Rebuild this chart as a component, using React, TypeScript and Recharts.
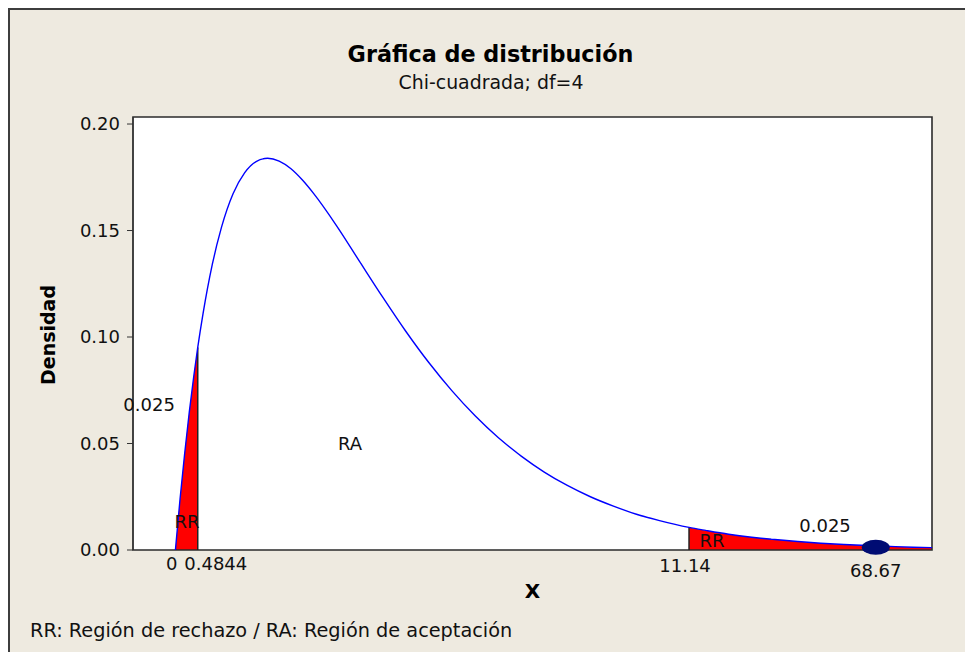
import {
  Area,
  CartesianGrid,
  ComposedChart,
  Line,
  ReferenceArea,
  ReferenceDot,
  ReferenceLine,
  XAxis,
  YAxis,
} from "recharts";

// chi-square (df=4) density, read point by point
const X_POINTS = [
  0, 0.1, 0.2, 0.3, 0.4, 0.4844, 0.6, 0.8, 1, 1.25, 1.5, 1.75, 2, 2.25, 2.5, 2.75, 3, 3.5, 4, 4.5, 5, 5.5,
  6, 6.5, 7, 7.5, 8, 8.5, 9, 9.5, 10, 10.5, 11.14, 11.5, 12, 12.5, 13, 13.5, 14, 14.5, 15, 15.5, 16, 16.41,
];
const DENSITY = [
  0, 0.0238, 0.0452, 0.0646, 0.0819, 0.0951, 0.1111, 0.1341, 0.1516, 0.1673, 0.1771, 0.1824, 0.1839,
  0.1826, 0.1791, 0.1738, 0.1673, 0.1521, 0.1353, 0.1186, 0.1026, 0.0879, 0.0747, 0.063, 0.0528, 0.0441,
  0.0366, 0.0303, 0.025, 0.0206, 0.0168, 0.0138, 0.0106, 0.0092, 0.0074, 0.006, 0.0049, 0.004, 0.0032,
  0.0026, 0.0021, 0.0017, 0.0013, 0.0011,
];

const LEFT_CRIT = 0.4844;
const RIGHT_CRIT = 11.14;
// the statistic (68.67) is far off-scale, so its marker sits near the right edge
const STAT_LABEL = "68.67";
const STAT_PLOT_X = 15.19;
const STAT_PLOT_Y = 0.0013;

const X_DOMAIN: [number, number] = [-0.92, 16.41];
const Y_DOMAIN: [number, number] = [0, 0.2033];
const Y_TICKS = [0, 0.05, 0.1, 0.15, 0.2];
const X_TICKS = [0, LEFT_CRIT, RIGHT_CRIT, STAT_PLOT_X];
const X_TICK_LABELS = ["0", "0.4844", "11.14", STAT_LABEL];

const NOTE_TEXT = ["0.025", "RA", "RR", "RR", "0.025"];
const NOTE_X = [-0.57, 3.79, 0.254, 11.64, 14.09];
const NOTE_Y = [0.0681, 0.0498, 0.0136, 0.0045, 0.0113];

const FONT = "'DejaVu Sans', Verdana, sans-serif";

// label offsets so the crowded tick labels don't collide
const TICK_NUDGE = [
  { dx: -3.6, dy: 20 },
  { dx: 18, dy: 20 },
  { dx: -4, dy: 21.5 },
  { dx: 0, dy: 26.5 },
];

const rows = X_POINTS.map((x, i) => ({
  x,
  density: DENSITY[i],
  leftTail: x <= LEFT_CRIT ? DENSITY[i] : null,
  rightTail: x >= RIGHT_CRIT ? DENSITY[i] : null,
}));

const leftEdge = DENSITY[X_POINTS.indexOf(LEFT_CRIT)];
const rightEdge = DENSITY[X_POINTS.indexOf(RIGHT_CRIT)];

function XTick(props: any) {
  const { x, y, index } = props;
  const n = TICK_NUDGE[index] ?? { dx: 0, dy: 20 };
  return (
    <text x={x + n.dx} y={y + n.dy} textAnchor="middle" fontSize={18} fill="#111" fontFamily={FONT}>
      {X_TICK_LABELS[index]}
    </text>
  );
}

function noteShape(text: string) {
  return (props: any) => (
    <text
      x={props.cx}
      y={props.cy}
      textAnchor="middle"
      dominantBaseline="central"
      fontSize={18}
      fill="#111"
      fontFamily={FONT}
    >
      {text}
    </text>
  );
}

function StatMarker(props: any) {
  return <ellipse cx={props.cx} cy={props.cy} rx={14} ry={7.5} fill="#000c73" />;
}

export default function App() {
  return (
    <div
      style={{
        position: "fixed",
        left: 8,
        top: 8,
        width: 957,
        height: 644,
        boxSizing: "border-box",
        borderTop: "2px solid #3d3d3d",
        borderLeft: "2px solid #3d3d3d",
        background: "#eeeae0",
        fontFamily: FONT,
        overflow: "hidden",
      }}
    >
      <ComposedChart
        width={955}
        height={642}
        data={rows}
        margin={{ top: 107, right: 33, bottom: 40, left: 0 }}
      >
        <CartesianGrid horizontal={false} vertical={false} fill="#ffffff" />
        <XAxis
          dataKey="x"
          type="number"
          domain={X_DOMAIN}
          ticks={X_TICKS}
          interval={0}
          allowDataOverflow
          axisLine={false}
          tickLine={false}
          tickSize={0}
          tickMargin={0}
          height={62}
          tick={<XTick />}
          label={{
            value: "X",
            position: "center",
            dy: 10,
            style: { fontSize: 20, fontWeight: 700, fill: "#000", fontFamily: FONT },
          }}
        />
        <YAxis
          type="number"
          domain={Y_DOMAIN}
          ticks={Y_TICKS}
          interval={0}
          allowDataOverflow
          width={123}
          tickSize={6}
          tickMargin={7}
          tickFormatter={(v: number) => v.toFixed(2)}
          tick={{ fontSize: 18, fill: "#111", fontFamily: FONT }}
          tickLine={{ stroke: "#333" }}
          axisLine={{ stroke: "#333" }}
          label={{
            value: "Densidad",
            angle: -90,
            position: "center",
            dx: -23.5,
            dy: 1.5,
            style: { fontSize: 19, fontWeight: 700, fill: "#000", fontFamily: FONT },
          }}
        />
        <Area
          dataKey="leftTail"
          type="monotone"
          fill="#ff0000"
          fillOpacity={1}
          stroke="none"
          isAnimationActive={false}
        />
        <Area
          dataKey="rightTail"
          type="monotone"
          fill="#ff0000"
          fillOpacity={1}
          stroke="none"
          isAnimationActive={false}
        />
        <ReferenceLine
          segment={[
            { x: LEFT_CRIT, y: 0 },
            { x: LEFT_CRIT, y: leftEdge },
          ]}
          stroke="#222"
          strokeWidth={1.5}
        />
        <ReferenceLine
          segment={[
            { x: RIGHT_CRIT, y: 0 },
            { x: RIGHT_CRIT, y: rightEdge },
          ]}
          stroke="#222"
          strokeWidth={1.5}
        />
        <Line
          dataKey="density"
          type="monotone"
          stroke="#0000ff"
          strokeWidth={1.4}
          dot={false}
          isAnimationActive={false}
        />
        {NOTE_TEXT.map((t, i) => (
          <ReferenceDot key={i} x={NOTE_X[i]} y={NOTE_Y[i]} r={1} shape={noteShape(t)} />
        ))}
        <ReferenceDot x={STAT_PLOT_X} y={STAT_PLOT_Y} r={8} shape={<StatMarker />} />
        <ReferenceArea
          x1={X_DOMAIN[0]}
          x2={X_DOMAIN[1]}
          y1={Y_DOMAIN[0]}
          y2={Y_DOMAIN[1]}
          fill="none"
          stroke="#2b2b2b"
          strokeWidth={1.6}
        />
      </ComposedChart>
      <svg
        width={955}
        height={642}
        style={{ position: "absolute", left: 0, top: 0, pointerEvents: "none" }}
        fontFamily={FONT}
      >
        <text x={480.5} y={52} textAnchor="middle" fontSize={22.3} fontWeight={700} fill="#000">
          Gráfica de distribución
        </text>
        <text x={481} y={79} textAnchor="middle" fontSize={18.9} fill="#111">
          Chi-cuadrada; df=4
        </text>
        <text x={20} y={627} fontSize={19.3} fill="#111">
          RR: Región de rechazo / RA: Región de aceptación
        </text>
      </svg>
    </div>
  );
}
